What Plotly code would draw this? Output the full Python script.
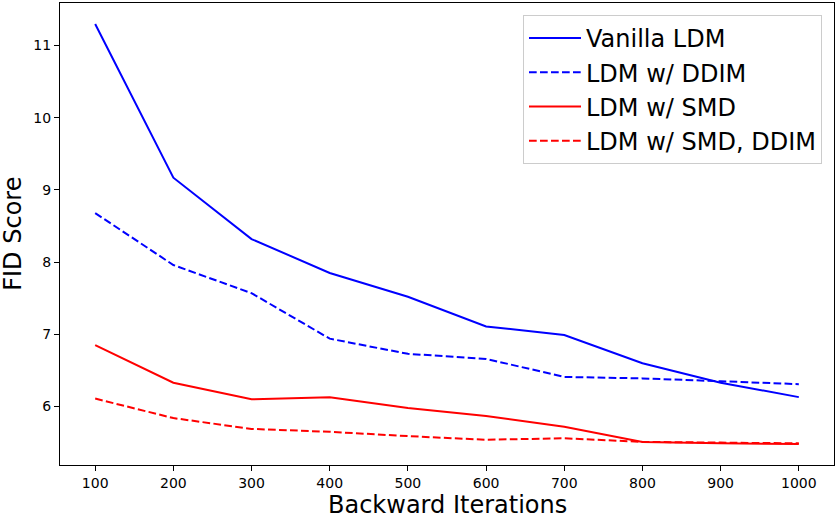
import plotly.graph_objects as go

iterations = [100, 200, 300, 400, 500, 600, 700, 800, 900, 1000]
vanilla_ldm = [11.30, 9.17, 8.32, 7.85, 7.52, 7.11, 6.99, 6.60, 6.33, 6.13]
ldm_ddim = [8.68, 7.96, 7.57, 6.94, 6.73, 6.66, 6.41, 6.39, 6.35, 6.31]
ldm_smd = [6.85, 6.33, 6.10, 6.13, 5.98, 5.87, 5.72, 5.51, 5.49, 5.48]
ldm_smd_ddim = [6.11, 5.84, 5.69, 5.65, 5.59, 5.54, 5.56, 5.51, 5.50, 5.49]

series = [
    ("Vanilla LDM", vanilla_ldm, "blue", "solid"),
    ("LDM w/ DDIM", ldm_ddim, "blue", "7.7px,3.3px"),
    ("LDM w/ SMD", ldm_smd, "red", "solid"),
    ("LDM w/ SMD, DDIM", ldm_smd_ddim, "red", "7.7px,3.3px"),
]

fig = go.Figure()
for name, vals, color, dash in series:
    fig.add_trace(go.Scatter(x=iterations, y=vals, mode="lines", name=name,
                             line=dict(color=color, width=2, dash=dash)))

axis_common = dict(showgrid=False, zeroline=False, showline=True, linecolor="black",
                   linewidth=1, mirror=True, ticks="outside", ticklen=5,
                   tickcolor="black", automargin=False,
                   tickfont=dict(family="DejaVu Sans", size=14, color="black"))

fig.update_layout(
    width=837, height=514,
    margin=dict(l=60, r=3, t=3, b=49),
    plot_bgcolor="white", paper_bgcolor="white",
    font=dict(family="DejaVu Sans", color="black"),
    xaxis=dict(range=[55, 1045], tickvals=iterations, **axis_common),
    yaxis=dict(range=[5.19, 11.59], tickvals=[6, 7, 8, 9, 10, 11], **axis_common),
    legend=dict(x=0.9845, y=0.974, xanchor="right", yanchor="top",
                bgcolor="rgba(255,255,255,0.8)", bordercolor="#cccccc", borderwidth=1,
                font=dict(size=24, family="DejaVu Sans"), itemwidth=52),
    annotations=[
        dict(text="Backward Iterations", xref="paper", yref="paper", x=0.5, y=-0.086,
             xanchor="center", yanchor="middle", showarrow=False, borderpad=0,
             font=dict(size=24, family="DejaVu Sans", color="black")),
        dict(text="FID Score", xref="paper", yref="paper", x=-0.061, y=0.5,
             xanchor="center", yanchor="middle", textangle=-90, showarrow=False,
             font=dict(size=24, family="DejaVu Sans", color="black")),
    ],
)

fig.write_html("out.html",
               config={"displayModeBar": False},
               post_script="document.body.style.margin='0';document.body.style.padding='0';document.body.style.overflow='hidden';")
